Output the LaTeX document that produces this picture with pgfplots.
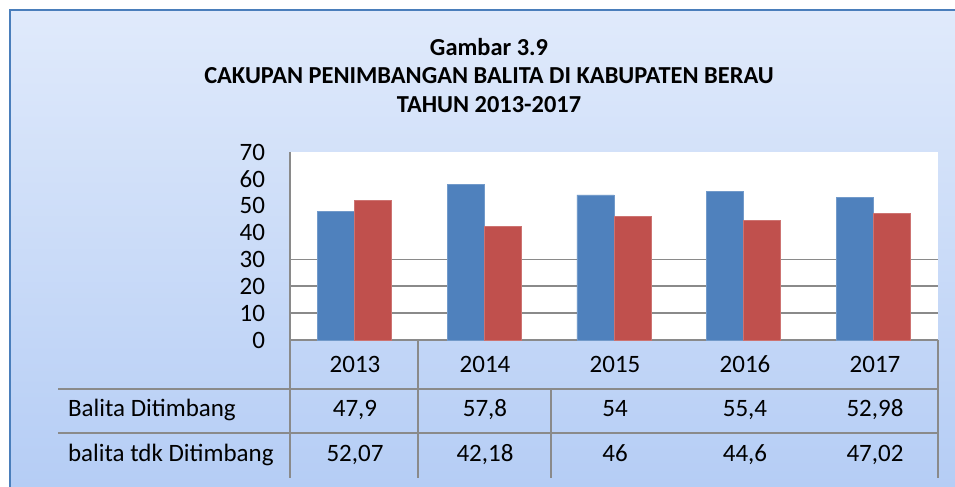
\documentclass[border=0pt]{standalone}
\usepackage{fontspec}
\setmainfont{Carlito}
\usepackage{pgfplots}
\pgfplotsset{compat=1.18}

\definecolor{serA}{HTML}{4F81BD}
\definecolor{serB}{HTML}{C0504D}
\definecolor{tbl}{HTML}{8A8A8A}
\definecolor{bgTop}{HTML}{E0EAFB}
\definecolor{bgBot}{HTML}{B5CDF5}
\definecolor{frameblue}{HTML}{4A7EBB}

\newcommand{\tf}{\fontsize{12.5}{14}\selectfont}

\begin{document}
\begin{tikzpicture}[cell/.style={font=\tf, text height=1.6ex, text depth=0.4ex}]
% background and frame, in pixel units (origin top left)
\begin{scope}[x=0.5pt,y=-0.5pt]
  \useasboundingbox (0,0) rectangle (955,487);
  \fill[white] (0,0) rectangle (955,487);
  \shade[top color=bgTop, bottom color=bgBot] (10,10) rectangle (955,487);
  \draw[frameblue, line width=1.4pt] (10,487) -- (10,10) -- (955,10);
  % title
  \node[font=\fontsize{12.2}{13}\selectfont\bfseries] at (489,47) {Gambar 3.9};
  \node[font=\fontsize{12.2}{13}\selectfont\bfseries] at (489,76) {CAKUPAN PENIMBANGAN BALITA DI KABUPATEN BERAU};
  \node[font=\fontsize{12.2}{13}\selectfont\bfseries] at (489,105) {TAHUN 2013-2017};
\end{scope}

\begin{axis}[
    at={(145pt,-170pt)}, anchor=south west,
    scale only axis,
    width=324pt, height=94pt,
    xmin=-0.5, xmax=4.5,
    ymin=0, ymax=70,
    ytick={0,10,...,70},
    xtick=\empty,
    axis x line*=bottom,
    axis y line*=left,
    axis line style={tbl, line width=0.8pt, -},
    major tick length=0pt,
    extra y ticks={10,20,30},
    extra y tick labels={},
    extra y tick style={grid=major, major grid style={tbl, line width=0.8pt}},
    axis background/.style={fill=white},
    yticklabel style={font=\tf, xshift=-9pt},
    /pgf/number format/assume math mode=true,
    ybar=0pt,
    bar width=18.5pt,
    clip=false,
]
\addplot[fill=serA, draw=serA!80!white] coordinates {
    (0,47.9) (1,57.8) (2,54) (3,55.4) (4,52.98)
};
\addplot[fill=serB, draw=serB!80!white] coordinates {
    (0,52.07) (1,42.18) (2,46) (3,44.6) (4,47.02)
};
\end{axis}

% data table under the axis
\begin{scope}[x=0.5pt,y=-0.5pt]
  \draw[tbl, line width=0.8pt]
    (290,340) -- (290,478)
    (418,340) -- (418,478)
    (938,340) -- (938,478)
    (551,389) -- (551,478)
    (58,389) -- (938,389)
    (58,433) -- (938,433);
  \foreach \yr [count=\i from 0] in {2013,2014,2015,2016,2017}
    \node[cell] at (355+130*\i,367) {\yr};
  \node[cell, anchor=west] at (61,411) {Balita Ditimbang};
  \node[cell, anchor=west] at (61,456) {balita tdk Ditimbang};
  \foreach \v [count=\i from 0] in {47{,}9,57{,}8,54,55{,}4,52{,}98}
    \node[cell] at (355+130*\i,411) {\v};
  \foreach \v [count=\i from 0] in {52{,}07,42{,}18,46,44{,}6,47{,}02}
    \node[cell] at (355+130*\i,456) {\v};
\end{scope}
\end{tikzpicture}
\end{document}
